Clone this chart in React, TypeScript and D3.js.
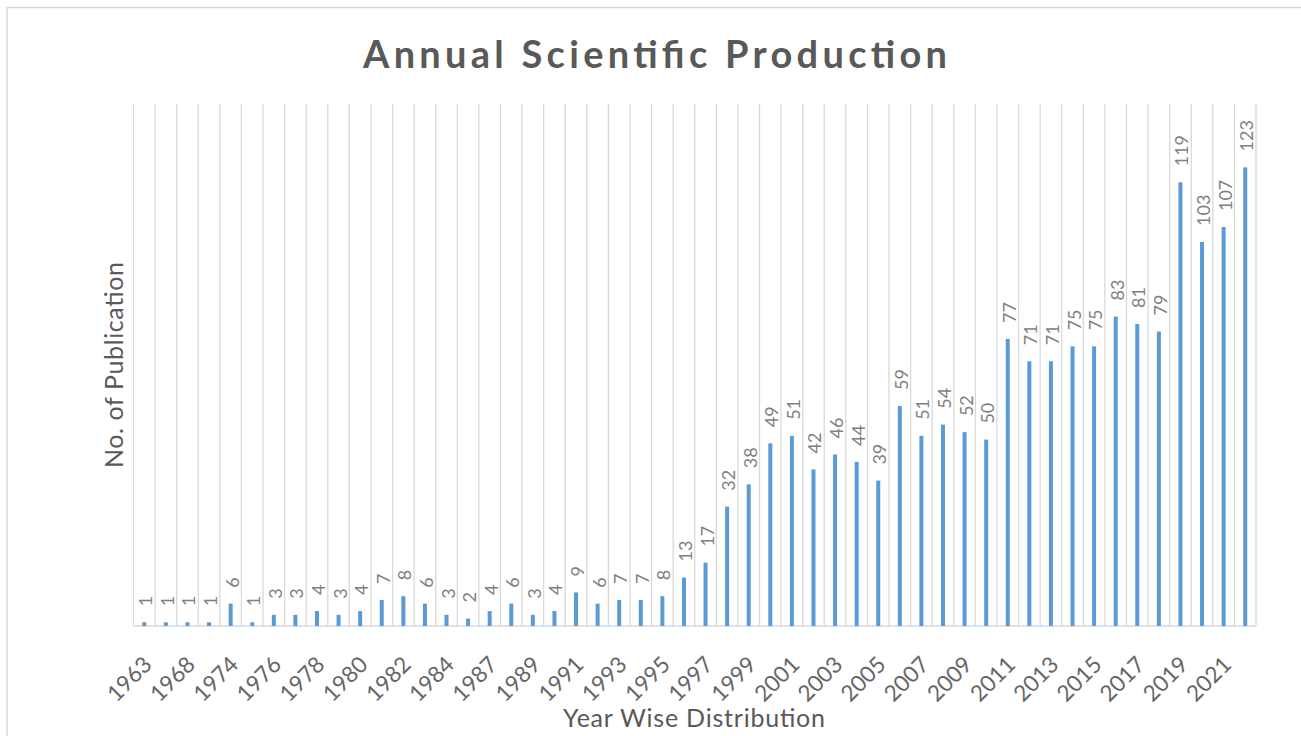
import React from "react";
import * as d3 from "d3";

// Publications per year
const years: string[] = [
  "1963", "1966", "1968", "1972", "1974", "1975", "1976", "1977", "1978", "1979",
  "1980", "1981", "1982", "1983", "1984", "1986", "1987", "1988", "1989", "1990",
  "1991", "1992", "1993", "1994", "1995", "1996", "1997", "1998", "1999", "2000",
  "2001", "2002", "2003", "2004", "2005", "2006", "2007", "2008", "2009", "2010",
  "2011", "2012", "2013", "2014", "2015", "2016", "2017", "2018", "2019", "2020",
  "2021", "2022",
];
const publications: number[] = [
  1, 1, 1, 1, 6, 1, 3, 3, 4, 3,
  4, 7, 8, 6, 3, 2, 4, 6, 3, 4,
  9, 6, 7, 7, 8, 13, 17, 32, 38, 49,
  51, 42, 46, 44, 39, 59, 51, 54, 52, 50,
  77, 71, 71, 75, 75, 83, 81, 79, 119, 103,
  107, 123,
];
const yMax = 140;

const chartTitle = "Annual Scientific Production";
const yTitle = "No. of Publication";
const xTitle = "Year Wise Distribution";

const W = 1301;
const H = 736;
const plot = { left: 133.5, right: 1256, top: 104, bottom: 626 };
const FONT = "Lato, 'Open Sans', sans-serif";

export default function App() {
  const x = d3.scaleBand<string>().domain(years).range([plot.left, plot.right]).padding(0);
  const y = d3.scaleLinear().domain([0, yMax]).range([plot.bottom, plot.top]);
  const bw = 4;
  const boundaries = d3.range(years.length + 1).map((i) => plot.left + i * x.step());

  return (
    <svg
      width={W}
      height={H}
      style={{ position: "absolute", left: 0, top: 0, background: "#fff" }}
    >
      {/* chart frame */}
      <rect x={7} y={7.5} width={W + 20} height={H + 20} fill="#fff" stroke="#d9d9d9" strokeWidth={1.5} />

      {/* title */}
      <text
        x={655}
        y={68}
        textAnchor="middle"
        fontFamily={FONT}
        fontWeight={700}
        fontSize={38}
        fill="#595959"
        textLength={584}
        lengthAdjust="spacing"
      >
        {chartTitle}
      </text>

      {/* vertical category gridlines */}
      {boundaries.map((bx, i) => (
        <line key={i} x1={bx} x2={bx} y1={plot.top} y2={plot.bottom} stroke="#d9d9d9" strokeWidth={1.3} />
      ))}

      {/* baseline */}
      <line x1={plot.left} x2={plot.right} y1={plot.bottom} y2={plot.bottom} stroke="#d9d9d9" strokeWidth={1.5} />

      {/* bars */}
      {years.map((yr, i) => {
        const cx = (x(yr) as number) + x.bandwidth() / 2;
        return (
          <rect
            key={yr}
            x={cx - bw / 2}
            y={y(publications[i])}
            width={bw}
            height={plot.bottom - y(publications[i])}
            fill="#5b9bd5"
          />
        );
      })}

      {/* data labels */}
      {years.map((yr, i) => {
        const cx = (x(yr) as number) + x.bandwidth() / 2;
        const ty = y(publications[i]) - 16;
        return (
          <text
            key={yr}
            transform={`translate(${cx + 1},${ty}) rotate(-90)`}
            dominantBaseline="central"
            fontFamily={FONT}
            fontSize={18}
            fill="#7f7f7f"
          >
            {publications[i]}
          </text>
        );
      })}

      {/* category labels, every second year */}
      {years.map((yr, i) => {
        if (i % 2 !== 0) return null;
        const cx = (x(yr) as number) + x.bandwidth() / 2;
        return (
          <text
            key={yr}
            transform={`translate(${cx + 3},${plot.bottom + 34}) rotate(-45)`}
            textAnchor="end"
            dominantBaseline="central"
            fontFamily={FONT}
            fontSize={22.5}
            fill="#666666"
          >
            {yr}
          </text>
        );
      })}

      {/* axis titles */}
      <text
        transform={`translate(113,365) rotate(-90)`}
        textAnchor="middle"
        dominantBaseline="central"
        fontFamily={FONT}
        fontSize={25}
        fill="#595959"
        textLength={206}
        lengthAdjust="spacing"
      >
        {yTitle}
      </text>
      <text
        x={694}
        y={727}
        textAnchor="middle"
        fontFamily={FONT}
        fontSize={25}
        fill="#595959"
        textLength={262}
        lengthAdjust="spacing"
      >
        {xTitle}
      </text>
    </svg>
  );
}
